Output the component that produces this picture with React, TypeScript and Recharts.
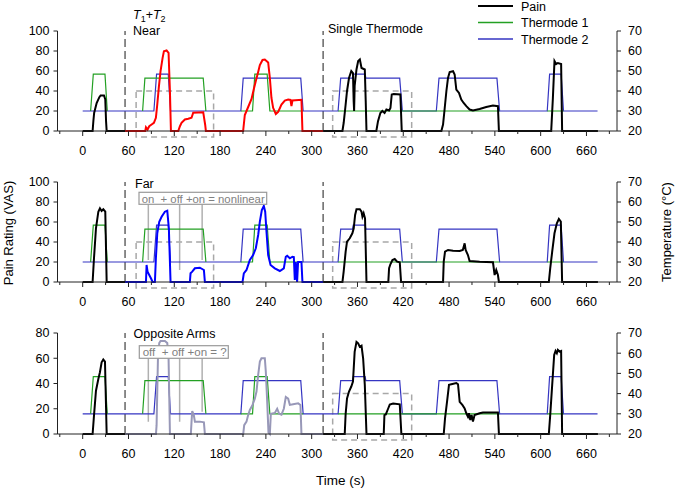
import React from "react";
import { LineChart, Line, XAxis, YAxis, ReferenceLine, ReferenceArea } from "recharts";

const FONT = "'Liberation Sans', Arial, sans-serif";
const AXIS = "#222";
const GREEN = "#23a023";
const BLUE_T = "#3535c2";
const GUIDE = "#b0b0b0";
const W = 675;
const H = 490;

type Pt = [number, number | null];

// time ticks (s)
const X_MAJOR = [0, 60, 120, 180, 240, 300, 360, 420, 480, 540, 600, 660];
const X_MINOR = [-30, 30, 90, 150, 210, 270, 330, 390, 450, 510, 570, 630, 690];
const PAIN_TICKS_100 = [0, 20, 40, 60, 80, 100];
const PAIN_TICKS_80 = [0, 20, 40, 60, 80];
const TEMP_TICKS = [20, 30, 40, 50, 60, 70];

// thermode temperatures (°C), same protocol in every panel
const THERMODE_1: Pt[] = [
  [10.4, 30], [13.9, 48.4], [29.2, 48.4], [32.2, 30], [32.3, null],
  [78.5, 30], [81.5, 46.4], [157.9, 46.4], [161.4, 30], [161.5, null],
  [207.2, 30], [222.5, 30], [225.5, 48.4], [241.7, 48.4], [245.2, 30], [288.8, 30], [288.9, null],
  [334.6, 30], [546.2, 30], [546.3, null],
  [608.6, 30], [629.9, 30],
];
const THERMODE_2: Pt[] = [
  [0, 30], [93.3, 30], [96.8, 48.4], [112.1, 48.4], [115.1, 30],
  [207.2, 30], [210.3, 46.4], [285.7, 46.4], [288.8, 30],
  [334.6, 30], [338, 46.4], [353.5, 46.4], [354.5, 48.4], [370, 48.4], [371, 46.4],
  [415.3, 46.4], [418.8, 30], [463.3, 30], [466.8, 46.4], [542.7, 46.4], [546.2, 30],
  [608.6, 30], [611.7, 48.4], [626.8, 48.4], [629.9, 30], [674.5, 30],
];

// pain ratings (VAS) — Near
const NEAR_PRE: Pt[] = [
  [0, 0], [13, 0], [14, 10], [15, 18], [18.3, 28], [21.8, 33.8], [23.5, 35.5], [27.9, 35.5],
  [29.6, 31.5], [30.6, 10], [31.4, 0], [55.5, 0],
];
const NEAR_MID: Pt[] = [
  [55.5, 0], [82, 0], [82.9, 3.8], [85, 1.5], [87.2, 4.8], [90.3, 6.5], [93.3, 8.2], [95.9, 13.2],
  [97.7, 26.5], [99.9, 44.8], [102, 59.8], [104.7, 73.2], [106.4, 79.8], [109.9, 80.5], [112.5, 78.2],
  [114.3, 39.8], [115.6, 0], [125.2, 0], [127.4, 4.8], [129.5, 8.2], [133.9, 11.5], [138.3, 12.2],
  [142.6, 13.2], [144.8, 18.2], [157.9, 18.8], [160.5, 6], [161.4, 0], [210.2, 0], [212.4, 16],
  [216.8, 24], [221.2, 32], [224.2, 42], [226.8, 50], [229.9, 59], [232.1, 66], [235.6, 71],
  [238.6, 71.5], [240.8, 70], [243, 68.5], [245.2, 53], [247.3, 33], [249.5, 23.2], [253, 17],
  [256.1, 19.2], [260.4, 26.5], [264.8, 30.5], [269.2, 31.5], [272.2, 31.2], [273.5, 24.8],
  [274.8, 30.5], [286.6, 31.2], [287.9, 0], [315, 0],
];
const NEAR_POST: Pt[] = [
  [315, 0], [340.3, 0], [341.9, 8], [344.5, 26.5], [346.3, 40], [348.9, 53], [351.9, 60], [354.1, 58],
  [355, 30], [355.6, 20], [356.3, 45], [358.7, 61.5], [360.9, 70], [363.1, 71.5], [365.3, 63],
  [369.6, 61.5], [370.8, 30], [371.8, 0], [384.7, 0], [386.9, 9.8], [390, 18], [392.6, 20],
  [395.5, 18], [397.9, 21.5], [401.4, 20.5], [403.2, 23], [404.9, 36.5], [407.5, 37], [416.2, 36.5],
  [417, 20], [418, 0], [469.9, 0], [472.1, 6.5], [474.3, 23], [476.5, 40], [478.6, 53], [480.8, 59],
  [485.2, 59.8], [487.3, 56.5], [489.5, 41.5], [493, 38], [496, 31.5], [499.1, 28], [502.6, 24.8],
  [506.9, 21.5], [511.3, 20.5], [520, 22], [528.7, 24], [537.5, 25.5], [544, 24.8], [545.3, 0],
  [613.8, 0], [616, 33], [618.1, 70], [620.3, 67], [622.5, 68], [626.8, 67], [628.1, 0], [675, 0],
];

// pain ratings (VAS) — Far
const FAR_PRE: Pt[] = [
  [0, 0], [13, 0], [14.8, 23.7], [17.4, 53.7], [20.5, 70.3], [22.6, 73.7], [24.8, 71], [27, 72.7],
  [29.6, 70.3], [31.4, 0], [55.5, 0],
];
const FAR_MID: Pt[] = [
  [55.5, 0], [82.9, 0], [83.7, 17], [85, 10.3], [87.2, 7], [89.4, 3.7], [91.6, 0], [94.6, 0],
  [95.9, 23.7], [97.7, 48.7], [100.3, 60.3], [103.4, 65.3], [107.7, 70.3], [110.8, 71.3],
  [112.9, 53.7], [115.1, 0], [140.4, 0], [141.3, 8.7], [143.5, 10.3], [147, 13.7], [153.5, 14.3],
  [158.8, 12], [160.1, 0], [209.4, 0], [211.1, 8.7], [214.6, 12], [219, 22], [223.3, 27],
  [226.8, 33.7], [229.9, 47], [232.1, 60.3], [234.7, 72], [237.3, 76], [239.1, 70.3], [240.8, 50.3],
  [243, 27], [246.1, 17], [251.7, 13.7], [258.3, 11], [263.5, 13.7], [266.1, 25.3], [267.9, 26.3],
  [271.4, 23.7], [274.8, 25.3], [276.6, 25], [277.9, 2], [279.2, 20], [280.9, 0], [282.2, 20],
  [286.6, 20], [287.9, 0], [315, 0],
];
const FAR_POST: Pt[] = [
  [315, 0], [340.3, 0], [341.9, 10.3], [344.5, 30.3], [346.3, 40.3], [349.9, 43.7], [353.3, 48.7],
  [355.1, 53.7], [356.9, 67], [358.7, 72.7], [363.1, 72.7], [365.3, 70.3], [366.5, 65.3],
  [368.1, 68.7], [369.9, 63.7], [371.8, 0], [400.4, 0], [401.4, 13.7], [403.1, 17.7], [405.8, 22],
  [408.8, 23], [411.9, 20.3], [415.4, 19.7], [417.1, 0], [472.1, 0], [473, 20.3], [474.7, 30.3],
  [478.7, 32], [485.2, 31.3], [493.9, 31], [498, 32], [500.4, 38.7], [501.7, 32], [504.7, 27],
  [506.9, 21], [520, 20.3], [537.5, 19.7], [539.7, 7], [541.8, 12], [544, 7], [545.3, 0],
  [610.7, 0], [612.5, 13.7], [615.1, 30.3], [618.1, 48.7], [621.2, 58.7], [623.8, 63],
  [626.4, 60.3], [628.1, 0], [675, 0],
];

// pain ratings (VAS) — Opposite Arms
const OPP_PRE: Pt[] = [
  [0, 0], [13, 0], [14.8, 14.6], [17.4, 34.3], [20.5, 43.6], [22.6, 48.9], [24.8, 56.8], [27, 59],
  [29.2, 57.4], [31.4, 0], [55.5, 0],
];
const OPP_MID: Pt[] = [
  [55.5, 0], [96, 0], [96.8, 6.8], [98.6, 60], [100.3, 72], [102, 73.7], [107.7, 73.7],
  [110.8, 72], [112.5, 60], [114.3, 0], [141.7, 0], [142.6, 9.8], [143.5, 18.2], [145.6, 15],
  [147, 9.8], [153.5, 9.8], [158.8, 9.2], [160.1, 0], [210.3, 0], [211.6, 7], [214.6, 9.8],
  [216.8, 15], [219, 19], [222.5, 23], [225.5, 28], [227.7, 33.6], [229.9, 46.8], [232.1, 57.4],
  [234.2, 60], [238.6, 60], [239.9, 49.5], [241.7, 25.7], [243.4, 1.3], [245.2, 0], [246.5, 16],
  [251.7, 16.7], [254.8, 20], [257.4, 16], [260.4, 15.3], [263.5, 20], [266.1, 29.3], [269.2, 28],
  [271.4, 23], [275.7, 23.5], [282.3, 24.3], [285.3, 23], [286.6, 0], [315, 0],
];
const OPP_POST: Pt[] = [
  [315, 0], [343.3, 0], [344.5, 16], [346.3, 28.2], [348.9, 33.6], [351.9, 37.6], [354.1, 41.6],
  [356.3, 65], [358.7, 73], [360.9, 71.8], [363, 69], [365.3, 69.9], [367.4, 60], [369.6, 38.9],
  [371.8, 0], [394.4, 0], [395.3, 15], [397.1, 15.5], [400.1, 20], [402.3, 23.3], [406.7, 24.1],
  [415.4, 23.5], [417.5, 0], [473, 0], [474.7, 12.3], [477.3, 25.5], [479.9, 38.9], [483, 39.4],
  [489.5, 40.3], [491.7, 39.4], [493.9, 25.5], [497.4, 23], [500.4, 20.3], [502.6, 16.4],
  [504.7, 13.7], [506, 16.4], [507.8, 11.1], [509.5, 15], [511.3, 9.8], [513.4, 15], [520, 16.4],
  [524.4, 17.1], [544, 17.1], [545.3, 0], [610.7, 0], [612.5, 15], [615.1, 38.9], [617.7, 62.6],
  [619.5, 65.8], [621.2, 64], [622.5, 66.6], [624.7, 65.3], [626.8, 65.8], [628.1, 0], [675, 0],
];

// protocol markers
const SECTION_STARTS = [55.5, 315];
const GUIDE_TIMES = [86, 127, 156.5];

const toRows = (pts: Pt[]) => pts.map(([t, v]) => ({ t, v }));

function XTick({ x, payload, axisY }: { x?: number; payload?: { value: number }; axisY: number }) {
  const v = payload?.value ?? 0;
  const major = v % 60 === 0;
  return (
    <g>
      <line x1={x} x2={x} y1={axisY} y2={axisY + (major ? 5 : 3)} stroke={AXIS} strokeWidth={1} />
      {major && (
        <text x={x} y={axisY + 24} textAnchor="middle" fontSize={12.5} fontFamily={FONT} fill="#000">
          {v}
        </text>
      )}
    </g>
  );
}

interface PanelProps {
  top: number;
  bottom: number;
  painMax: number;
  painTicks: number[];
  pre: Pt[];
  mid: Pt[];
  post: Pt[];
  midColor: string;
  boxes: [number, number][];
  guides?: [number, number][];
}

function Panel({ top, bottom, painMax, painTicks, pre, mid, post, midColor, boxes, guides }: PanelProps) {
  const xTicks = [...X_MINOR, ...X_MAJOR].sort((a, b) => a - b);
  return (
    <div style={{ position: "absolute", left: 0, top: 0 }}>
      <LineChart width={W} height={H} margin={{ top, bottom: H - bottom - 30, left: 7.5, right: 8 }}>
        <XAxis type="number" dataKey="t" domain={[-33, 700]} ticks={xTicks} interval={0}
          allowDataOverflow height={30} tickLine={false} axisLine={{ stroke: AXIS }}
          tick={(p: any) => <XTick {...p} axisY={bottom} />} />
        <YAxis yAxisId="pain" domain={[0, painMax]} ticks={painTicks} interval={0} width={50}
          tickSize={4} tickMargin={4} axisLine={{ stroke: AXIS }} tickLine={{ stroke: AXIS }}
          tick={{ fontSize: 12.5, fill: "#000", fontFamily: FONT }} />
        <YAxis yAxisId="temp" orientation="right" domain={[20, 70]} ticks={TEMP_TICKS} interval={0}
          width={50} tickSize={4} tickMargin={7} axisLine={{ stroke: AXIS }} tickLine={{ stroke: AXIS }}
          tick={{ fontSize: 12.5, fill: "#000", fontFamily: FONT }} />

        {boxes.map(([a, b], i) => (
          <ReferenceArea key={`b${i}`} yAxisId="temp" x1={a} x2={b} y1={17} y2={40} ifOverflow="visible"
            fill="none" stroke="#a8a8a8" strokeWidth={1.5} strokeDasharray="6 4" />
        ))}
        {SECTION_STARTS.map((t) => (
          <ReferenceLine key={`s${t}`} yAxisId="pain" x={t} stroke="#666" strokeWidth={1.5}
            strokeDasharray="8 4" />
        ))}
        {guides?.map(([y1, y2], i) => (
          <ReferenceLine key={`g${i}`} yAxisId="pain" stroke={GUIDE} strokeWidth={1.5}
            segment={[{ x: GUIDE_TIMES[i], y: y1 }, { x: GUIDE_TIMES[i], y: y2 }]} />
        ))}

        <Line yAxisId="temp" data={toRows(THERMODE_2)} dataKey="v" stroke={BLUE_T} strokeWidth={1.2}
          dot={false} isAnimationActive={false} type="linear" />
        <Line yAxisId="temp" data={toRows(THERMODE_1)} dataKey="v" stroke={GREEN} strokeWidth={1.2}
          dot={false} isAnimationActive={false} type="linear" />
        <Line yAxisId="pain" data={toRows(pre)} dataKey="v" stroke="#000" strokeWidth={2}
          dot={false} isAnimationActive={false} type="linear" />
        <Line yAxisId="pain" data={toRows(mid)} dataKey="v" stroke={midColor} strokeWidth={2}
          dot={false} isAnimationActive={false} type="linear" />
        <Line yAxisId="pain" data={toRows(post)} dataKey="v" stroke="#000" strokeWidth={2}
          dot={false} isAnimationActive={false} type="linear" />
      </LineChart>
    </div>
  );
}

const LEGEND = [
  { name: "Pain", color: "#000", width: 2.2 },
  { name: "Thermode 1", color: GREEN, width: 1.3 },
  { name: "Thermode 2", color: BLUE_T, width: 1.3 },
];

function Overlay() {
  const txt = { fontFamily: FONT, fontSize: 12.5, fill: "#000" };
  return (
    <svg width={W} height={H} style={{ position: "absolute", left: 0, top: 0, pointerEvents: "none" }}>
      {/* legend */}
      {LEGEND.map((l, i) => (
        <g key={l.name}>
          <line x1={478} x2={513} y1={6 + i * 16.5} y2={6 + i * 16.5} stroke={l.color} strokeWidth={l.width} />
          <text x={521} y={10.5 + i * 16.5} {...txt}>{l.name}</text>
        </g>
      ))}

      {/* axis titles */}
      <text transform="translate(13,233) rotate(-90)" textAnchor="middle" {...txt} fontSize={13}>
        Pain Rating (VAS)
      </text>
      <text transform="translate(671,232) rotate(-90)" textAnchor="middle" {...txt} fontSize={13}>
        Temperature (°C)
      </text>
      <text x={340.5} y={485} textAnchor="middle" {...txt} fontSize={13.5}>Time (s)</text>

      {/* section labels */}
      <text x={133} y={18.5} {...txt}>
        <tspan fontStyle="italic">T</tspan>
        <tspan fontSize={9} dy={3}>1</tspan>
        <tspan dy={-3}>+</tspan>
        <tspan fontStyle="italic">T</tspan>
        <tspan fontSize={9} dy={3}>2</tspan>
      </text>
      <text x={133} y={35} {...txt}>Near</text>
      <text x={328} y={33} {...txt}>Single Thermode</text>
      <text x={135} y={187.5} {...txt}>Far</text>
      <text x={133.5} y={338} {...txt}>Opposite Arms</text>

      {/* formula boxes */}
      <rect x={139} y={192.3} width={127.7} height={12} fill="#fff" stroke="#9a9a9a" strokeWidth={1.2} />
      <text x={141.7} y={202.8} fontFamily={FONT} fontSize={11.5} fill="#808080"
        textLength={123} lengthAdjust="spacingAndGlyphs" style={{ whiteSpace: "pre" }}>
        {"on  + off +on = nonlinear"}
      </text>
      <rect x={139.3} y={345.7} width={89} height={12.6} fill="#fff" stroke="#9a9a9a" strokeWidth={1.2} />
      <text x={142.7} y={356.2} fontFamily={FONT} fontSize={11.5} fill="#808080"
        textLength={84} lengthAdjust="spacingAndGlyphs" style={{ whiteSpace: "pre" }}>
        {"off  + off +on = ?"}
      </text>
    </svg>
  );
}

export default function App() {
  return (
    <div style={{ position: "absolute", left: 0, top: 0, width: W, height: H, background: "#fff" }}>
      <Panel top={31} bottom={131} painMax={100} painTicks={PAIN_TICKS_100}
        pre={NEAR_PRE} mid={NEAR_MID} post={NEAR_POST} midColor="#ff0000"
        boxes={[[70, 171.5], [327.5, 431]]} />
      <Panel top={182} bottom={282} painMax={100} painTicks={PAIN_TICKS_100}
        pre={FAR_PRE} mid={FAR_MID} post={FAR_POST} midColor="#0000ff"
        boxes={[[70, 171.5], [327.5, 431]]}
        guides={[[77.7, 22], [77.7, 12], [77.7, 22]]} />
      <Panel top={333} bottom={434} painMax={80} painTicks={PAIN_TICKS_80}
        pre={OPP_PRE} mid={OPP_MID} post={OPP_POST} midColor="#9898b8"
        boxes={[[327.5, 431]]}
        guides={[[60, 9.7], [60, 9.7], [60, 17.7]]} />
      <Overlay />
    </div>
  );
}
